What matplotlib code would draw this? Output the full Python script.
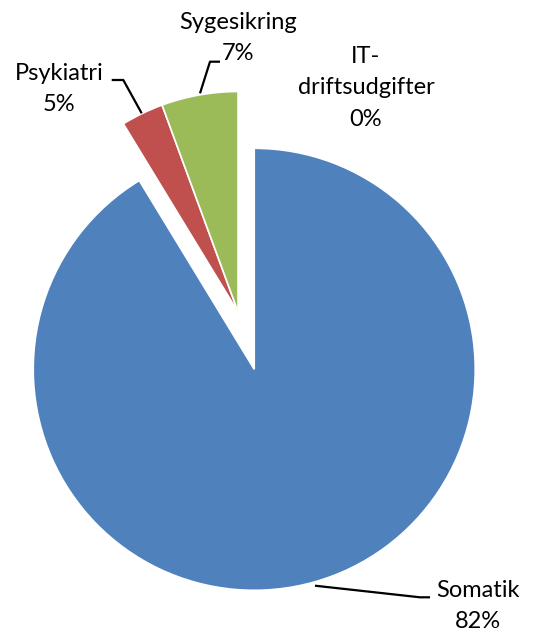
import matplotlib
matplotlib.use("Agg")
import matplotlib.pyplot as plt

# slice sizes as drawn (share of the circle)
categories = ["Somatik", "Psykiatri", "Sygesikring", "IT-driftsudgifter"]
values = [91.2, 3.1, 5.6, 0.0]
pct_labels = ["82%", "5%", "7%", "0%"]
colors = ["#4F81BD", "#C0504D", "#9BBB59", "#8064A2"]

W, H = 533, 631
fig = plt.figure(figsize=(W / 100, H / 100), dpi=100)
ax = fig.add_axes([0, 0, 1, 1])

R = 221
cx, cy = 238.3, H - 312.5
ax.pie(values, colors=colors, startangle=90, counterclock=False,
       radius=R, center=(cx, cy), explode=[59, 0, 0, 0],
       wedgeprops=dict(edgecolor="white", linewidth=1.2))
ax.set_xlim(0, W)
ax.set_ylim(0, H)
ax.set_aspect("equal")
ax.axis("off")

font = dict(family=["Lato", "DejaVu Sans"], fontsize=17, color="black",
            ha="center", va="center", linespacing=1.6)

def Y(y):
    return H - y

# label texts (pixel positions, y from top)
ax.text(477.5, Y(606), categories[0] + "\n" + pct_labels[0], **font)
ax.text(59, Y(89), categories[1] + "\n" + pct_labels[1], **font)
ax.text(238, Y(38), categories[2] + "\n" + pct_labels[2], **font)
ax.text(366, Y(88), "IT-\ndriftsudgifter\n" + pct_labels[3], **font)

# leader lines
lk = dict(color="black", lw=1.6, solid_capstyle="butt")
ax.plot([315, 420, 430], [Y(585.7), Y(597.3), Y(597.3)], **lk)
ax.plot([111.7, 123.3, 141.7], [Y(80), Y(80), Y(113.3)], **lk)
ax.plot([220, 210, 200], [Y(61.7), Y(61.7), Y(93.3)], **lk)

fig.savefig("out.png", dpi=100)
